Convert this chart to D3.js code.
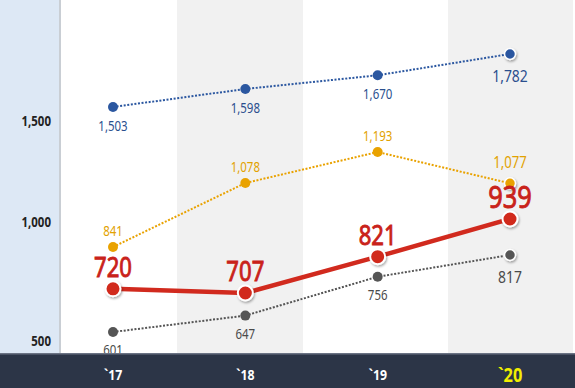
<!DOCTYPE html>
<html lang="ko">
<head>
  <meta charset="UTF-8" />
  <title>Trend 2017-2020</title>
  <script src="https://d3js.org/d3.v7.min.js"></script>
  <style>
    body { margin: 0; padding: 0; background: #fff; }
    svg { display: block; font-family: 'Noto Sans', sans-serif; }
    .ytick { font-weight: bold; font-size: 14px; fill: #222; }
    .xtick { font-weight: bold; font-size: 15px; fill: #fff; }
    .dotted { fill: none; stroke-width: 2; stroke-dasharray: 2 1.6; }
  </style>
</head>
<body>
  <div id="chart"></div>

  <script>
    const years = ["`17", "`18", "`19", "`20"];
    const yTicks = [500, 1000, 1500];
    const blue = [1503, 1598, 1670, 1782];
    const orange = [841, 1078, 1193, 1077];
    const red = [720, 707, 821, 939];
    const gray = [601, 647, 756, 817];

    const W = 575, H = 388, barTop = 353;
    const squeeze = 0.82; // the source font is a narrow one
    const svg = d3.select("#chart").append("svg").attr("width", W).attr("height", H);

    const x = d3.scalePoint().domain(years).range([113, 510]);
    // axis labels follow the picture's uneven spacing
    const yAxis = d3.scaleLinear().domain([500, 1000, 1500]).range([341, 222, 121]);

    function narrowText(sel, px, py) {
      sel.attr("transform", (d, i) => `translate(${px(d, i)},${py(d, i)}) scale(${squeeze},1)`);
    }

    // background
    svg.append("rect").attr("width", W).attr("height", H).attr("fill", "#fff");
    svg.append("rect").attr("x", 0).attr("y", 0).attr("width", 60).attr("height", barTop).attr("fill", "#dde8f5");
    svg.append("rect").attr("x", 59).attr("y", 0).attr("width", 2).attr("height", barTop).attr("fill", "#c9ced4");
    const bandEdges = [62, 177, 303, 448, 573];
    years.forEach((yr, i) => {
      svg.append("rect")
        .attr("x", bandEdges[i]).attr("y", 0)
        .attr("width", bandEdges[i + 1] - bandEdges[i]).attr("height", barTop)
        .attr("fill", i % 2 ? "#f1f1f1" : "#fff");
    });

    svg.selectAll(".ytick").data(yTicks).enter().append("text")
      .attr("class", "ytick")
      .attr("dy", "0.35em")
      .attr("text-anchor", "end")
      .text(d => d3.format(",")(d))
      .call(narrowText, () => 51, d => yAxis(d));

    const defs = svg.append("defs");
    const f = defs.append("filter").attr("id", "shadow").attr("x", "-50%").attr("y", "-50%").attr("width", "200%").attr("height", "200%");
    f.append("feDropShadow").attr("dx", 1).attr("dy", 1.5).attr("stdDeviation", 1.2).attr("flood-color", "#000").attr("flood-opacity", 0.35);

    // each series sits in its own vertical band, as in the infographic
    const series = [
      { values: blue, color: "#2b57a0", text: "#2b4f8e", domain: [1503, 1782], range: [107, 54], r: 5, lw: 2, dotted: true, labelDy: 19, lastDy: 22, size: 14, lastSize: 17 },
      { values: orange, color: "#e9a200", text: "#e2a200", domain: [841, 1193], range: [247, 152], r: 5, lw: 2, dotted: true, labelDy: -16, lastDy: -21, size: 14, lastSize: 16 },
      { values: gray, color: "#555", text: "#4a4a4a", domain: [601, 817], range: [332, 255], r: 5, lw: 2, dotted: true, labelDy: 18, lastDy: 22, size: 14, lastSize: 17 },
      { values: red, color: "#d12a1e", text: "#c9221a", domain: [707, 939], range: [293, 219], r: 7.5, lw: 4.5, dotted: false, labelDy: -21, lastDy: -22, size: 27, lastSize: 31 }
    ];

    series.forEach(s => {
      const y = d3.scaleLinear().domain(s.domain).range(s.range);
      const pts = s.values.map((v, i) => [x(years[i]), y(v)]);
      svg.append("path")
        .attr("class", s.dotted ? "dotted" : null)
        .attr("d", d3.line()(pts))
        .attr("fill", "none")
        .attr("stroke", s.color)
        .attr("stroke-width", s.lw);

      svg.selectAll(null).data(pts).enter().append("circle")
        .attr("cx", d => d[0]).attr("cy", d => d[1])
        .attr("r", (d, i) => s.r + (s.dotted && i === 3 ? 0.5 : 0))
        .attr("fill", s.color)
        .attr("stroke", (d, i) => (!s.dotted || i === 3) ? "#fff" : "none")
        .attr("stroke-width", s.dotted ? 1.5 : 2)
        .attr("filter", (d, i) => (!s.dotted || i === 3) ? "url(#shadow)" : null);

      svg.selectAll(null).data(s.values).enter().append("text")
        .attr("dy", "0.35em")
        .attr("text-anchor", "middle")
        .attr("fill", s.text)
        .attr("stroke", s.dotted ? null : s.text)
        .attr("stroke-width", s.dotted ? null : 0.9)
        .style("font-size", (d, i) => (i === 3 ? s.lastSize : s.size) + "px")
        .text(d => d3.format(",")(d))
        .call(narrowText, (d, i) => pts[i][0], (d, i) => pts[i][1] + (i === 3 ? s.lastDy : s.labelDy));
    });

    // bottom bar, drawn over the lowest label like the picture
    svg.append("rect").attr("x", 0).attr("y", barTop).attr("width", W).attr("height", H - barTop).attr("fill", "#2c3547");
    svg.append("rect").attr("x", 0).attr("y", barTop).attr("width", W).attr("height", 1.5).attr("fill", "#6b7384");

    svg.selectAll(".xtick").data(years).enter().append("text")
      .attr("class", "xtick")
      .attr("dy", "0.35em")
      .attr("text-anchor", "middle")
      .style("font-size", (d, i) => i === 3 ? "20px" : null)
      .style("fill", (d, i) => i === 3 ? "#f2ee00" : null)
      .text(d => d)
      .call(narrowText, d => x(d), () => 375);
  </script>
</body>
</html>
